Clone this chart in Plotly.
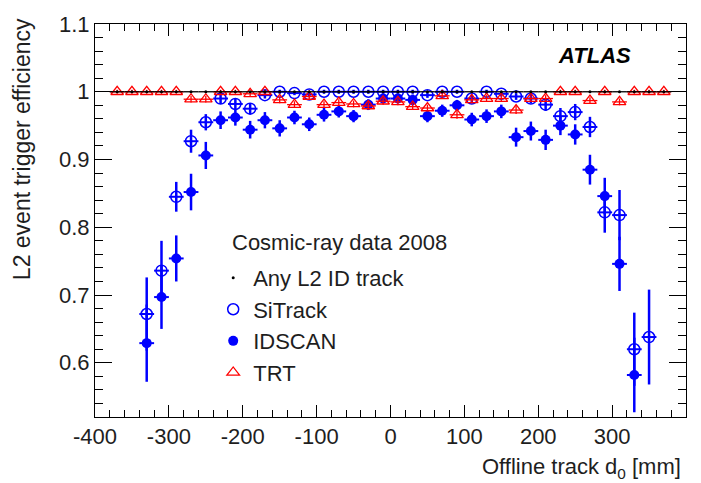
import plotly.graph_objects as go

# ---------------- data ----------------
bins_all = [-370, -350, -330, -310, -290, -270, -250, -230, -210, -190,
            -170, -150, -130, -110, -90, -70, -50, -30, -10, 10,
            30, 50, 70, 90, 110, 130, 150, 170, 190, 210,
            230, 250, 270, 290, 310, 330, 350, 370]

anyl2_eff = [1.0, 1.0, 1.0, 1.0, 1.0, 1.0, 1.0, 1.0, 1.0, 1.0,
             1.0, 1.0, 1.0, 1.0, 1.0, 1.0, 1.0, 1.0, 1.0, 1.0,
             1.0, 1.0, 1.0, 1.0, 1.0, 1.0, 1.0, 1.0, 1.0, 1.0,
             1.0, 1.0, 1.0, 1.0, 1.0, 1.0, 1.0, 1.0]

trt_eff = [1.0, 1.0, 1.0, 1.0, 1.0, 0.989, 0.989, 1.0, 1.0, 0.997,
           1.0, 0.988, 0.981, 0.993, 0.981, 0.984, 0.982, 0.979, 0.986, 0.985,
           0.978, 0.976, 0.994, 0.966, 0.988, 0.99, 0.99, 0.973, 0.99, 0.99,
           1.0, 1.0, 0.987, 1.0, 0.985, 1.0, 1.0, 1.0]
trt_err = [0.003, 0.003, 0.003, 0.003, 0.003, 0.005, 0.005, 0.003, 0.003, 0.004,
           0.003, 0.005, 0.005, 0.004, 0.005, 0.005, 0.005, 0.005, 0.005, 0.005,
           0.005, 0.005, 0.004, 0.006, 0.005, 0.005, 0.005, 0.006, 0.005, 0.005,
           0.003, 0.003, 0.005, 0.003, 0.005, 0.003, 0.003, 0.003]

sitrack_x = [-330, -310, -290, -270, -250, -230, -210, -190, -170, -150,
             -130, -110, -90, -70, -50, -30, -10, 10, 30, 50,
             70, 90, 110, 130, 150, 170, 190, 210, 230, 250,
             270, 290, 310, 330, 350]
sitrack_eff = [0.672, 0.736, 0.845, 0.927, 0.955, 0.99, 0.982, 0.975, 0.995, 1.0,
               0.998, 0.996, 1.0, 1.0, 1.0, 1.0, 1.0, 1.0, 1.0, 0.995,
               1.0, 1.0, 0.99, 1.0, 0.997, 0.993, 0.99, 0.981, 0.964, 0.97,
               0.948, 0.822, 0.818, 0.62, 0.638]
sitrack_err = [0.054, 0.044, 0.022, 0.017, 0.012, 0.008, 0.008, 0.008, 0.005, 0.003,
               0.003, 0.004, 0.003, 0.003, 0.003, 0.003, 0.003, 0.003, 0.003, 0.004,
               0.003, 0.003, 0.006, 0.003, 0.004, 0.005, 0.007, 0.009, 0.012, 0.012,
               0.015, 0.03, 0.037, 0.054, 0.07]

idscan_x = [-330, -310, -290, -270, -250, -230, -210, -190, -170, -150,
            -130, -110, -90, -70, -50, -30, -10, 10, 30, 50,
            70, 90, 110, 130, 150, 170, 190, 210, 230, 250,
            270, 290, 310, 330]
idscan_eff = [0.629, 0.697, 0.754, 0.852, 0.906, 0.958, 0.962, 0.944, 0.958, 0.946,
              0.962, 0.952, 0.966, 0.971, 0.964, 0.981, 0.99, 0.99, 0.988, 0.964,
              0.972, 0.98, 0.959, 0.964, 0.971, 0.933, 0.942, 0.929, 0.95, 0.937,
              0.885, 0.846, 0.746, 0.582]
idscan_err = [0.057, 0.047, 0.034, 0.027, 0.02, 0.013, 0.012, 0.013, 0.012, 0.012,
              0.01, 0.01, 0.01, 0.009, 0.009, 0.008, 0.007, 0.007, 0.008, 0.009,
              0.009, 0.008, 0.01, 0.01, 0.01, 0.014, 0.014, 0.015, 0.014, 0.015,
              0.022, 0.027, 0.04, 0.055]

bin_half_width = 10

x_tickvals = [-400, -300, -200, -100, 0, 100, 200, 300, 400]
x_ticktext = ["-400", "-300", "-200", "-100", "0", "100", "200", "300", "400"]
y_tickvals = [0.6, 0.7, 0.8, 0.9, 1.0, 1.1]
y_ticktext = ["0.6", "0.7", "0.8", "0.9", "1", "1.1"]

# ---------------- figure ----------------
FONT = "Liberation Sans, Arial, Helvetica, sans-serif"
TXT = "#1e1e1e"
BLUE = "#0000ff"
RED = "#ff0000"

fig = go.Figure()

fig.add_trace(go.Scatter(
    x=idscan_x, y=idscan_eff, mode="markers", name="IDSCAN", legendrank=3,
    marker=dict(symbol="circle", size=10, color=BLUE),
    error_y=dict(type="data", array=idscan_err, color=BLUE, thickness=2.5, width=0),
    error_x=dict(type="constant", value=bin_half_width, color=BLUE, thickness=2, width=0),
))
fig.add_trace(go.Scatter(
    x=sitrack_x, y=sitrack_eff, mode="markers", name="SiTrack", legendrank=2,
    marker=dict(symbol="circle-open", size=11, color=BLUE, line=dict(width=1.5, color=BLUE)),
    error_y=dict(type="data", array=sitrack_err, color=BLUE, thickness=2.5, width=0),
    error_x=dict(type="constant", value=bin_half_width, color=BLUE, thickness=2, width=0),
))
fig.add_trace(go.Scatter(
    x=bins_all, y=trt_eff, mode="markers", name="TRT", legendrank=4,
    marker=dict(symbol="triangle-up-open", size=11, color=RED, line=dict(width=1.3, color=RED)),
    error_y=dict(type="data", array=trt_err, color=RED, thickness=1.3, width=0),
    error_x=dict(type="constant", value=bin_half_width, color=RED, thickness=1.3, width=0),
))
fig.add_trace(go.Scatter(
    x=bins_all, y=anyl2_eff, mode="markers", name="Any L2 ID track", legendrank=1,
    marker=dict(symbol="circle", size=3, color="black"),
    error_x=dict(type="constant", value=bin_half_width, color="black", thickness=1.3, width=0),
))

axis_common = dict(
    showgrid=False, zeroline=False, showline=True, linecolor="black", linewidth=1,
    mirror="ticks", ticks="inside", tickcolor="black", tickwidth=1,
    tickfont=dict(family=FONT, size=22, color=TXT),
)

fig.update_xaxes(
    range=[-400, 400], tickmode="array", tickvals=x_tickvals, ticktext=x_ticktext,
    ticklen=12,
    minor=dict(ticks="inside", dtick=20, tick0=-400, ticklen=7, tickcolor="black", tickwidth=1),
    **axis_common,
)
fig.update_yaxes(
    range=[0.52, 1.1], tickmode="array", tickvals=y_tickvals, ticktext=y_ticktext,
    ticklen=17,
    minor=dict(ticks="inside", dtick=0.02, tick0=0.52, ticklen=8, tickcolor="black", tickwidth=1),
    **axis_common,
)

fig.update_layout(
    width=701, height=483,
    margin=dict(l=95, r=15, t=16, b=66),
    paper_bgcolor="white", plot_bgcolor="white",
    font=dict(family=FONT, size=22, color=TXT),
    showlegend=True,
    legend=dict(
        x=0.2, y=0.4075, xanchor="left", yanchor="top",
        bgcolor="rgba(0,0,0,0)", borderwidth=0,
        font=dict(family=FONT, size=22, color=TXT),
    ),
    annotations=[
        dict(text="Offline track d<sub>0</sub> [mm]", xref="paper", yref="paper",
             x=0.995, y=-0.13, xanchor="right", yanchor="middle", showarrow=False,
             font=dict(family=FONT, size=22, color=TXT)),
        dict(text="L2 event trigger efficiency", xref="paper", yref="paper",
             x=-0.1235, y=1.02, xanchor="center", yanchor="top", textangle=-90,
             showarrow=False, font=dict(family=FONT, size=23, color=TXT)),
        dict(text="<b><i>ATLAS</i></b>", xref="paper", yref="paper",
             x=0.91, y=0.92, xanchor="right", yanchor="middle", showarrow=False,
             font=dict(family=FONT, size=22, color="black")),
        dict(text="Cosmic-ray data 2008", xref="paper", yref="paper",
             x=(230 - 95) / 591, y=(417 - 239) / 401, xanchor="left", yanchor="middle",
             showarrow=False, font=dict(family=FONT, size=22, color=TXT)),
    ],
)

fig.write_html("out.html")
